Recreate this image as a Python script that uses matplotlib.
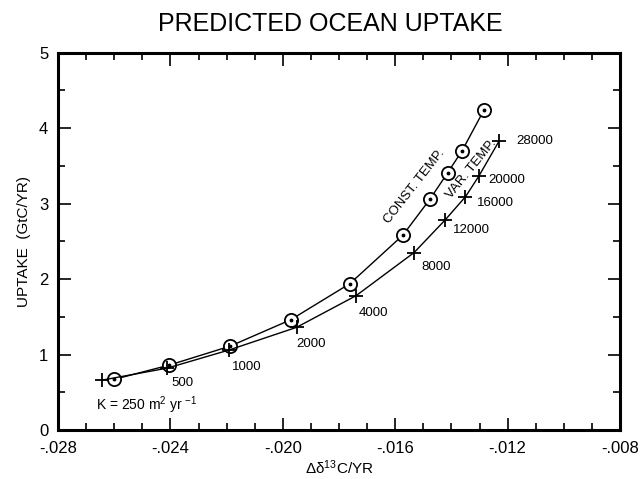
import matplotlib
matplotlib.use('Agg')
import matplotlib.pyplot as plt
from matplotlib.ticker import MultipleLocator

plt.rcParams['font.family'] = ['Liberation Sans', 'DejaVu Sans']
plt.rcParams['mathtext.fontset'] = 'custom'
plt.rcParams['mathtext.rm'] = 'Liberation Sans'
plt.rcParams['mathtext.it'] = 'Liberation Sans:italic'

# constant temperature run (circles)
const_x = [-0.02601, -0.02404, -0.02188, -0.01972, -0.01761, -0.01573,
           -0.01476, -0.01413, -0.01362, -0.01284]
const_y = [0.67, 0.86, 1.11, 1.46, 1.94, 2.58, 3.06, 3.41, 3.70, 4.24]

# variable temperature run (crosses)
var_x = [-0.02644, -0.02411, -0.02191, -0.01951, -0.01739, -0.01533,
         -0.01423, -0.01350, -0.01303, -0.01230]
var_y = [0.66, 0.82, 1.06, 1.36, 1.78, 2.35, 2.78, 3.09, 3.36, 3.83]

# year labels next to the crosses (index into var_x/var_y)
year_idx = [1, 2, 3, 4, 5, 6, 7, 8, 9]
year_labels = ['500', '1000', '2000', '4000', '8000', '12000', '16000', '20000', '28000']
year_offsets = [(4, -15), (3, -17), (0, -17), (3, -17), (7, -14), (8, -10), (11, -6), (10, -4), (17, 0)]

xticks = [-0.028, -0.024, -0.020, -0.016, -0.012, -0.008]
xtick_labels = ['-.028', '-.024', '-.020', '-.016', '-.012', '-.008']
yticks = [0, 1, 2, 3, 4, 5]

fig = plt.figure(figsize=(6.41, 4.79), dpi=100)
ax = fig.add_axes([0.0905, 0.1023, 0.8768, 0.788])

ax.plot(const_x, const_y, '-', color='black', lw=1.0)
ax.plot(const_x, const_y, 'o', ms=9.5, mfc='white', mec='black', mew=1.3)
ax.plot(const_x, const_y, '.', ms=3.5, color='black')
ax.plot(var_x, var_y, '-', color='black', lw=1.0)
ax.plot(var_x, var_y, '+', ms=10, mew=1.3, color='black')

for i, lab, off in zip(year_idx, year_labels, year_offsets):
    ax.annotate(lab, (var_x[i], var_y[i]), xytext=off, textcoords='offset pixels',
                ha='left', va='center', fontsize=9.5)

ax.text(-0.01530, 3.22, 'CONST. TEMP.', rotation=52, ha='center', va='center', fontsize=9.5)
ax.text(-0.01330, 3.46, 'VAR. TEMP.', rotation=51, ha='center', va='center', fontsize=9.5)
ax.text(-0.02664, 0.33, 'K = 250 m$^2$ yr $^{-1}$', ha='left', va='center', fontsize=10)

ax.set_xlim(-0.028, -0.008)
ax.set_ylim(0, 5)
ax.set_xticks(xticks)
ax.set_xticklabels(xtick_labels)
ax.set_yticks(yticks)
ax.xaxis.set_minor_locator(MultipleLocator(0.001))
ax.yaxis.set_minor_locator(MultipleLocator(0.5))
ax.tick_params(which='both', direction='in', top=True, right=True, labelsize=12, width=1.2)
ax.tick_params(which='major', length=9)
ax.tick_params(which='minor', length=5)
ax.tick_params(axis='x', which='major', pad=8)
ax.tick_params(axis='y', which='major', pad=7)
for s in ax.spines.values():
    s.set_linewidth(2.2)

ax.set_xlabel('Δδ$^{13}$C/YR', fontsize=11, labelpad=2)
ax.set_ylabel('UPTAKE  (GtC/YR)', fontsize=11, labelpad=6)
fig.suptitle('PREDICTED OCEAN UPTAKE', fontsize=18, x=0.515, y=0.975)

fig.savefig('out.png', dpi=100)
